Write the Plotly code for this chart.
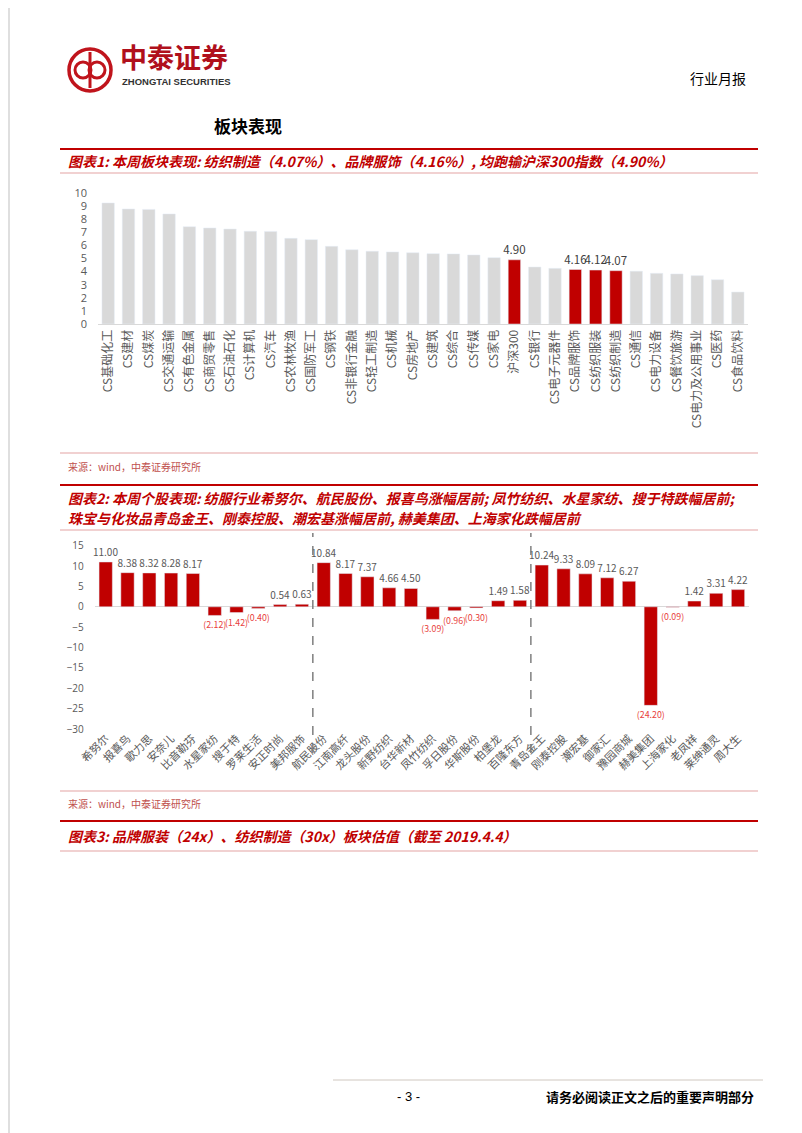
import plotly.graph_objects as go

W, H = 802, 1133

# chart 1: weekly sector performance (%)
sectors = ["CS基础化工", "CS建材", "CS煤炭", "CS交通运输", "CS有色金属", "CS商贸零售",
           "CS石油石化", "CS计算机", "CS汽车", "CS农林牧渔", "CS国防军工", "CS钢铁",
           "CS非银行金融", "CS轻工制造", "CS机械", "CS房地产", "CS建筑", "CS综合",
           "CS传媒", "CS家电", "沪深300", "CS银行", "CS电子元器件", "CS品牌服饰",
           "CS纺织服装", "CS纺织制造", "CS通信", "CS电力设备", "CS餐饮旅游",
           "CS电力及公用事业", "CS医药", "CS食品饮料"]
sector_ret = [9.24, 8.78, 8.75, 8.40, 7.43, 7.33, 7.25, 7.08, 7.07, 6.54, 6.44, 5.93,
              5.67, 5.55, 5.50, 5.44, 5.37, 5.35, 5.27, 5.06, 4.90, 4.35, 4.25, 4.16,
              4.12, 4.07, 4.03, 3.87, 3.82, 3.69, 3.38, 2.44]
highlight = ["沪深300", "CS品牌服饰", "CS纺织服装", "CS纺织制造"]

# chart 2: weekly stock performance (%)
stocks = ["希努尔", "报喜鸟", "歌力思", "安奈儿", "比音勒芬", "水星家纺", "搜于特", "罗莱生活",
          "安正时尚", "美邦服饰", "航民股份", "江南高纤", "龙头股份", "新野纺织", "台华新材",
          "凤竹纺织", "孚日股份", "华斯股份", "柏堡龙", "百隆东方", "青岛金王", "刚泰控股",
          "潮宏基", "御家汇", "豫园商城", "赫美集团", "上海家化", "老凤祥", "莱绅通灵", "周大生"]
stock_ret = [11.00, 8.38, 8.32, 8.28, 8.17, -2.12, -1.42, -0.40, 0.54, 0.63,
             10.84, 8.17, 7.37, 4.66, 4.50, -3.09, -0.96, -0.30, 1.49, 1.58,
             10.24, 9.33, 8.09, 7.12, 6.27, -24.20, -0.09, 1.42, 3.31, 4.22]
group_breaks = [9.5, 19.5]

RED = "#C00000"
GREY_BAR = "#D9D9D9"
TICK = "#595959"
CJK = "Noto Sans CJK SC"


def px(x):
    return x / W


def py(y):
    return 1 - y / H


fig = go.Figure()

# chart 1 bars
fig.add_trace(go.Bar(
    x=sectors, y=sector_ret,
    marker_color=[RED if s in highlight else GREY_BAR for s in sectors],
    text=[f"{v:.2f}" if s in highlight else "" for s, v in zip(sectors, sector_ret)],
    textposition="outside", constraintext="none",
    textfont=dict(size=11.5, color="#404040", family=CJK),
    cliponaxis=False, xaxis="x", yaxis="y", showlegend=False, hoverinfo="x+y"
))

# chart 2 bars
fig.add_trace(go.Bar(
    x=stocks, y=stock_ret, marker_color=RED,
    text=[f"{v:.2f}" if v >= 0 else f"({abs(v):.2f})" for v in stock_ret],
    textposition="outside", constraintext="none",
    textfont=dict(size=[10 if v >= 0 else 8.8 for v in stock_ret], family=CJK,
                  color=["#595959" if v >= 0 else "#E8413C" for v in stock_ret]),
    cliponaxis=False, xaxis="x2", yaxis="y2", showlegend=False, hoverinfo="x+y"
))

fig.update_layout(
    width=W, height=H, margin=dict(l=0, r=0, t=0, b=0, autoexpand=False),
    paper_bgcolor="white", plot_bgcolor="white",
    bargap=0.39, font=dict(family=CJK),
    xaxis=dict(domain=[px(90), px(740)], anchor="y", range=[-0.5, 31.5],
               tickangle=-90, tickfont=dict(size=12, color=TICK, family=CJK),
               showline=True, linecolor="#D9D9D9", ticks="", showgrid=False,
               automargin=False),
    yaxis=dict(domain=[py(316), py(185)], anchor="x", range=[0, 10], dtick=1,
               tickfont=dict(size=11, color=TICK, family="Open Sans"),
               showgrid=False, zeroline=False, ticklabelstandoff=10, automargin=False),
    xaxis2=dict(domain=[px(86.8), px(740.9)], anchor="y2", range=[-0.5, 29.5],
                tickangle=-45, tickfont=dict(size=11, color=TICK, family=CJK),
                showline=False, ticks="", showgrid=False, automargin=False),
    yaxis2=dict(domain=[py(721), py(537.7)], anchor="x2", range=[-30, 15], dtick=5,
                tickfont=dict(size=10, color=TICK, family="Open Sans"),
                showgrid=False, zeroline=True, zerolinecolor="#D9D9D9",
                zerolinewidth=1, ticklabelstandoff=10, automargin=False),
)

shapes = []
annos = []


def hline(y, x0, x1, color, width):
    shapes.append(dict(type="line", xref="paper", yref="paper", x0=px(x0), x1=px(x1),
                       y0=py(y), y1=py(y), line=dict(color=color, width=width)))


def label(x, y, text, size, color="black", bold=False, italic=False, anchor="left",
          family=CJK):
    annos.append(dict(xref="paper", yref="paper", x=px(x), y=py(y), text=text,
                      showarrow=False, xanchor=anchor, yanchor="middle",
                      font=dict(size=size, color=color, family=family,
                                weight="bold" if bold else "normal",
                                style="italic" if italic else "normal")))


# page border
for xx in (1, 800):
    shapes.append(dict(type="line", xref="paper", yref="paper", x0=px(xx), x1=px(xx),
                       y0=0, y1=1, line=dict(color="#BFBFBF", width=1)))

# logo
LOGO = "#C0141C"
shapes.append(dict(type="circle", xref="paper", yref="paper", x0=px(61), x1=px(103),
                   y0=py(83), y1=py(41), line=dict(color=LOGO, width=3.5)))
for cx in (75, 89):
    shapes.append(dict(type="circle", xref="paper", yref="paper", x0=px(cx - 8),
                       x1=px(cx + 8), y0=py(70), y1=py(54),
                       line=dict(color=LOGO, width=3)))
shapes.append(dict(type="line", xref="paper", yref="paper", x0=px(82), x1=px(82),
                   y0=py(44), y1=py(80), line=dict(color=LOGO, width=3)))
label(110, 48, "中泰证券", 27, color="#B0101C", bold=True)
label(112, 73, "ZHONGTAI SECURITIES", 9.5, color="#333333", bold=True,
      family="Liberation Sans, Arial")
label(740, 70, "行业月报", 14, anchor="right")

label(204, 117, "板块表现", 17, bold=True)

# chart 1 header
hline(141, 52, 750, RED, 2)
label(58, 153, "图表1: 本周板块表现: 纺织制造（4.07%）、品牌服饰（4.16%）, 均跑输沪深300指数（4.90%）",
      14, color=RED, bold=True, italic=True)
hline(165, 52, 750, "#E3A3A3", 1)
hline(445, 52, 750, "#E3A3A3", 1)
label(58, 458, "来源：wind，中泰证券研究所", 10, color="#C0504D")

# chart 2 header
hline(477, 52, 750, RED, 2)
label(58, 490, "图表2: 本周个股表现: 纺服行业希努尔、航民股份、报喜鸟涨幅居前; 凤竹纺织、水星家纺、搜于特跌幅居前;",
      14, color=RED, bold=True, italic=True)
label(58, 510, "珠宝与化妆品青岛金王、刚泰控股、潮宏基涨幅居前, 赫美集团、上海家化跌幅居前",
      14, color=RED, bold=True, italic=True)
hline(522, 52, 750, "#E3A3A3", 1)
for b in group_breaks:
    shapes.append(dict(type="line", xref="x2", yref="paper", x0=b, x1=b,
                       y0=py(745), y1=py(525),
                       line=dict(color="#7F7F7F", width=1.5, dash="dash")))
hline(783, 52, 750, "#E3A3A3", 1)
label(58, 795, "来源：wind，中泰证券研究所", 10, color="#C0504D")

# chart 3 header
hline(813, 52, 750, RED, 2)
label(58, 828, "图表3: 品牌服装（24x）、纺织制造（30x）板块估值（截至 2019.4.4）",
      14, color=RED, bold=True, italic=True)
hline(843, 52, 750, "#E3A3A3", 1)

# footer
hline(1072, 325, 755, "#D0C8C0", 1)
label(400, 1088, "- 3 -", 13, anchor="center", family="Liberation Sans, Arial")
label(748, 1088, "请务必阅读正文之后的重要声明部分", 13, bold=True, anchor="right")

fig.update_layout(shapes=shapes, annotations=annos)

fig.write_html("out.html")
